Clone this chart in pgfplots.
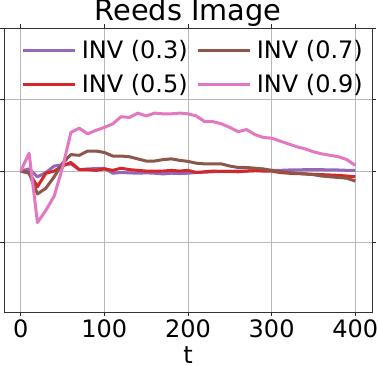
\documentclass[border=0pt]{standalone}
\usepackage{pgfplots}
\pgfplotsset{compat=1.18}
\usepackage{fontspec}
\setmainfont{DejaVu Sans}
\definecolor{cpurple}{HTML}{9467BD}
\definecolor{cred}{HTML}{D62728}
\definecolor{cbrown}{HTML}{8C564B}
\definecolor{cpink}{HTML}{E377C2}
\newcommand{\fs}{\fontsize{24}{28}\selectfont}
\begin{document}
\begin{tikzpicture}
\begin{axis}[
  at={(0,0)}, anchor=south west,
  scale only axis, width=368pt, height=284pt,
  xmin=-20, xmax=420, ymin=-1.97, ymax=2,
  xtick={0,100,200,300,400}, ytick={-1,0,1,2}, yticklabels={},
  grid=major, major grid style={black!28, line width=0.8pt},
  tick align=outside, major tick length=4pt,
  tick style={black!85, line width=0.8pt},
  axis line style={black!80, line width=0.8pt},
  /pgf/number format/assume math mode=true,
  ticklabel style={font=\fs},
  xticklabel style={anchor=base, yshift=-22pt},
  xlabel={t},
  xlabel style={font=\fs, inner sep=0pt, outer sep=0pt, at={(axis description cs:0.5,0)}, anchor=base, yshift=-51.5pt},
  title={Reeds Image},
  title style={font=\fontsize{28.8}{32}\selectfont, at={(axis description cs:0.5,1)}, anchor=base, yshift=1.5pt},
  legend style={draw=none, fill=none, at={(rel axis cs:0.048,0.956)}, anchor=north west,
    inner sep=0pt, outer sep=0pt, legend columns=2, font=\fs,
    nodes={inner sep=0pt},
    row sep=14.3pt,
    /tikz/every odd column/.append style={column sep=5.5pt},
    /tikz/every even column/.append style={column sep=9pt}},
  legend cell align=left,
  legend image code/.code={\draw[#1] (0pt,0pt) -- (51.6pt,0pt);},
  every axis plot/.append style={line width=3pt, line join=round},
]
\addplot[cpurple, forget plot] coordinates {
(0,0) (10,0.03) (20,-0.08) (30,-0.02) (40,0.07) (50,0.09) (60,0.10) (70,0.02) (80,0.03) (90,0.035)
(100,0.04) (110,-0.03) (120,-0.02) (130,-0.025) (140,-0.03) (150,-0.025) (160,-0.03) (170,-0.04) (180,-0.03) (190,-0.035)
(200,-0.03) (210,-0.02) (220,-0.015) (230,-0.01) (240,-0.005) (250,-0.005) (260,0) (270,0) (280,0.005) (290,0.005)
(300,0.01) (310,0.01) (320,0.015) (330,0.015) (340,0.02) (350,0.02) (360,0.02) (370,0.015) (380,0.015) (390,0.01) (400,0.01)};
\addplot[cred, forget plot] coordinates {
(0,0) (10,-0.02) (20,-0.22) (30,-0.03) (40,0.0) (50,0.07) (60,0.12) (70,0.02) (80,0.02) (90,0.01)
(100,0.03) (110,0.01) (120,0.04) (130,0.02) (140,0.01) (150,0) (160,0) (170,0) (180,0.01) (190,0)
(200,0.01) (210,-0.02) (220,-0.01) (230,0) (240,-0.005) (250,-0.005) (260,-0.01) (270,0) (280,0.005) (290,0)
(300,0) (310,-0.02) (320,-0.03) (330,-0.035) (340,-0.04) (350,-0.045) (360,-0.05) (370,-0.055) (380,-0.06) (390,-0.07) (400,-0.08)};
\addplot[cbrown, forget plot] coordinates {
(0,0) (10,-0.03) (20,-0.32) (30,-0.24) (40,-0.08) (50,0.11) (60,0.23) (70,0.22) (80,0.28) (90,0.28)
(100,0.26) (110,0.21) (120,0.21) (130,0.20) (140,0.17) (150,0.14) (160,0.14) (170,0.16) (180,0.17) (190,0.15)
(200,0.135) (210,0.11) (220,0.10) (230,0.10) (240,0.10) (250,0.07) (260,0.05) (270,0.05) (280,0.04) (290,0.03)
(300,0.01) (310,-0.005) (320,-0.02) (330,-0.03) (340,-0.04) (350,-0.05) (360,-0.07) (370,-0.08) (380,-0.09) (390,-0.10) (400,-0.14)};
\addplot[cpink, forget plot] coordinates {
(0,0) (10,0.25) (20,-0.72) (30,-0.55) (40,-0.35) (50,0.05) (60,0.54) (70,0.60) (80,0.52) (90,0.57)
(100,0.61) (110,0.66) (120,0.76) (130,0.75) (140,0.81) (150,0.77) (160,0.81) (170,0.80) (180,0.80) (190,0.81)
(200,0.80) (210,0.77) (220,0.69) (230,0.69) (240,0.66) (250,0.61) (260,0.55) (270,0.58) (280,0.51) (290,0.47)
(300,0.46) (310,0.42) (320,0.38) (330,0.34) (340,0.31) (350,0.27) (360,0.24) (370,0.22) (380,0.20) (390,0.16) (400,0.08)};
\addlegendimage{cpurple, line width=3pt}
\addlegendentry{INV (0.3)}
\addlegendimage{cbrown, line width=3pt}
\addlegendentry{INV (0.7)}
\addlegendimage{cred, line width=3pt}
\addlegendentry{INV (0.5)}
\addlegendimage{cpink, line width=3pt}
\addlegendentry{INV (0.9)}
\end{axis}
\pgfresetboundingbox
\path (-4pt,-54pt) rectangle (374pt,312pt);
\end{tikzpicture}
\end{document}
